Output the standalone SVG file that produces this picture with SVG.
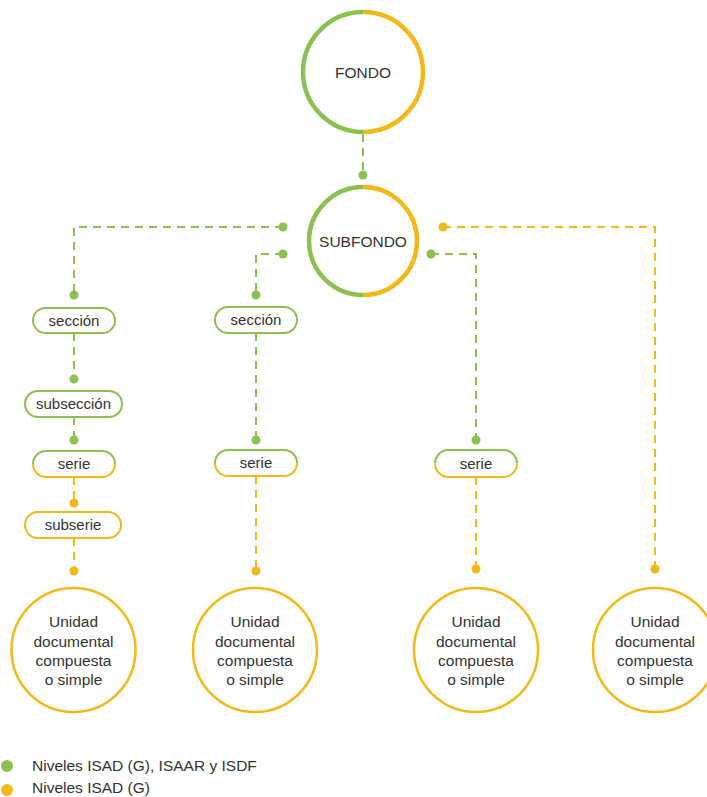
<svg xmlns="http://www.w3.org/2000/svg" width="707" height="797" viewBox="0 0 707 797">
<style>
.g{stroke:#8cc152;fill:none}
.y{stroke:#f3b917;fill:none}
.dash{stroke-width:2;stroke-dasharray:8 6}
.ring{stroke-width:4.5}
.box{stroke-width:2;fill:#fff}
.uc{stroke-width:2.5;fill:#fff}
.dg{fill:#8cc152}
.dy{fill:#f3b917}
text{font-family:"Liberation Sans",Arial,sans-serif;fill:#333;text-anchor:middle}
.t15{font-size:15.5px}
.t14{font-size:15px}
.tu{font-size:15.5px}
.leg{font-size:15.5px;text-anchor:start}
</style>
<rect width="707" height="797" fill="#fff"/>
<g id="connectors">
  <path class="g dash" d="M363,134 V175"/>
  <circle class="dg" cx="363" cy="175" r="4.5"/>
  <path class="g dash" d="M283,227 H74 V295"/>
  <circle class="dg" cx="283" cy="227" r="4.5"/>
  <circle class="dg" cx="74" cy="295" r="4.5"/>
  <path class="g dash" d="M283,254 H256 V295"/>
  <circle class="dg" cx="283" cy="254" r="4.5"/>
  <circle class="dg" cx="256" cy="295" r="4.5"/>
  <path class="y dash" d="M443,227 H655 V569"/>
  <circle class="dy" cx="443" cy="227" r="4.5"/>
  <circle class="dy" cx="655" cy="569" r="4.5"/>
  <path class="g dash" d="M431,254 H476 V440"/>
  <circle class="dg" cx="431" cy="254" r="4.5"/>
  <circle class="dg" cx="476" cy="440" r="4.5"/>
  <path class="y dash" d="M476,477 V569"/>
  <circle class="dy" cx="476" cy="569" r="4.5"/>
  <path class="g dash" d="M74,333 V379"/>
  <circle class="dg" cx="74" cy="379" r="4.5"/>
  <path class="g dash" d="M74,417 V440"/>
  <circle class="dg" cx="74" cy="440" r="4.5"/>
  <path class="y dash" d="M74,477 V503"/>
  <circle class="dy" cx="74" cy="503" r="4.5"/>
  <path class="y dash" d="M74,538 V571"/>
  <circle class="dy" cx="74" cy="571" r="4.5"/>
  <path class="g dash" d="M256,333 V440"/>
  <circle class="dg" cx="256" cy="440" r="4.5"/>
  <path class="y dash" d="M256,476 V571"/>
  <circle class="dy" cx="256" cy="571" r="4.5"/>
</g>
<g id="fondo">
  <circle cx="363" cy="72" r="60" fill="#fff"/>
  <path class="g ring" d="M363,12 A60,60 0 0 0 363,132"/>
  <path class="y ring" d="M363,12 A60,60 0 0 1 363,132"/>
  <text class="t15" x="363" y="78">FONDO</text>
</g>
<g id="subfondo">
  <circle cx="363" cy="241" r="54" fill="#fff"/>
  <path class="g ring" d="M363,187 A54,54 0 0 0 363,295"/>
  <path class="y ring" d="M363,187 A54,54 0 0 1 363,295"/>
  <text class="t15" x="363" y="247">SUBFONDO</text>
</g>
<g id="seccion1">
  <rect class="g box" x="33" y="308" width="82" height="25" rx="12.5"/>
  <text class="t14" x="74" y="326">sección</text>
</g>
<g id="subseccion">
  <rect class="g box" x="25" y="391" width="97" height="26" rx="13"/>
  <text class="t14" x="73.5" y="409">subsección</text>
</g>
<g id="serie1">
  <rect x="33" y="451" width="82" height="26" rx="13" fill="#fff"/>
  <path class="g" stroke-width="2" d="M33,464 A13,13 0 0 1 46,451 H102 A13,13 0 0 1 115,464"/>
  <path class="y" stroke-width="2" d="M115,464 A13,13 0 0 1 102,477 H46 A13,13 0 0 1 33,464"/>
  <text class="t14" x="74" y="469">serie</text>
</g>
<g id="subserie">
  <rect class="y box" x="25" y="512" width="96" height="26" rx="13"/>
  <text class="t14" x="73" y="530">subserie</text>
</g>
<g id="seccion2">
  <rect class="g box" x="215" y="307" width="82" height="26" rx="13"/>
  <text class="t14" x="256" y="325">sección</text>
</g>
<g id="serie2">
  <rect x="215" y="450" width="82" height="26" rx="13" fill="#fff"/>
  <path class="g" stroke-width="2" d="M215,463 A13,13 0 0 1 228,450 H284 A13,13 0 0 1 297,463"/>
  <path class="y" stroke-width="2" d="M297,463 A13,13 0 0 1 284,476 H228 A13,13 0 0 1 215,463"/>
  <text class="t14" x="256" y="468">serie</text>
</g>
<g id="serie3">
  <rect x="435" y="450" width="82" height="27" rx="13.5" fill="#fff"/>
  <path class="g" stroke-width="2" d="M435,463.5 A13.5,13.5 0 0 1 448.5,450 H503.5 A13.5,13.5 0 0 1 517,463.5"/>
  <path class="y" stroke-width="2" d="M517,463.5 A13.5,13.5 0 0 1 503.5,477 H448.5 A13.5,13.5 0 0 1 435,463.5"/>
  <text class="t14" x="476" y="469">serie</text>
</g>
<g id="unidad1">
  <circle class="y uc" cx="73.5" cy="650" r="62"/>
  <text class="tu" x="73.5" y="627">Unidad</text>
  <text class="tu" x="73.5" y="647">documental</text>
  <text class="tu" x="73.5" y="666">compuesta</text>
  <text class="tu" x="73.5" y="685">o simple</text>
</g>
<g id="unidad2">
  <circle class="y uc" cx="255" cy="650" r="62"/>
  <text class="tu" x="255" y="627">Unidad</text>
  <text class="tu" x="255" y="647">documental</text>
  <text class="tu" x="255" y="666">compuesta</text>
  <text class="tu" x="255" y="685">o simple</text>
</g>
<g id="unidad3">
  <circle class="y uc" cx="476" cy="650" r="62"/>
  <text class="tu" x="476" y="627">Unidad</text>
  <text class="tu" x="476" y="647">documental</text>
  <text class="tu" x="476" y="666">compuesta</text>
  <text class="tu" x="476" y="685">o simple</text>
</g>
<g id="unidad4">
  <circle class="y uc" cx="655" cy="650" r="62"/>
  <text class="tu" x="655" y="627">Unidad</text>
  <text class="tu" x="655" y="647">documental</text>
  <text class="tu" x="655" y="666">compuesta</text>
  <text class="tu" x="655" y="685">o simple</text>
</g>
<g id="legend">
  <circle class="dg" cx="7" cy="766" r="6"/>
  <text class="leg" x="32" y="771">Niveles ISAD (G), ISAAR y ISDF</text>
  <circle class="dy" cx="7" cy="790" r="6"/>
  <text class="leg" x="32" y="793">Niveles ISAD (G)</text>
</g>
</svg>
